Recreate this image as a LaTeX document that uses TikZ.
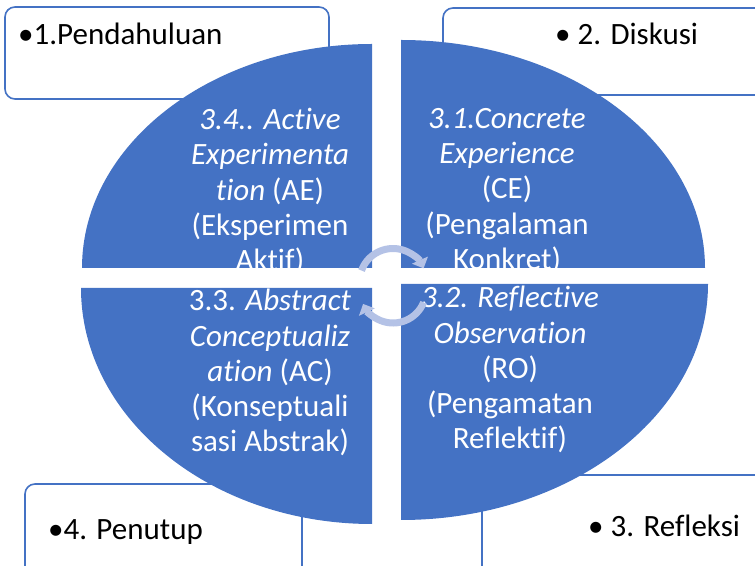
\documentclass[tikz,border=0pt]{standalone}
\usepackage{fontspec}
\setmainfont{Carlito}[RawFeature={-liga,-clig,-dlig,-calt}]
\usetikzlibrary{arrows.meta}
\definecolor{qblue}{HTML}{4472C4}
\definecolor{arrc}{HTML}{B4C2E6}
\tikzset{
  boxshape/.style={draw=qblue, line width=1.6pt, fill=white, rounded corners=10pt},
  boxtext/.style={anchor=base west, inner sep=0pt, font=\fontsize{31}{36}\selectfont, text=black},
  qtext/.style={anchor=north, inner sep=0pt, align=center, text=white, font=\fontsize{31}{35.3}\selectfont},
  cyc/.style={draw=arrc, line width=7pt, -{Triangle[width=17pt,length=9pt]}}
}
\begin{document}
\begin{tikzpicture}[x=1pt,y=1pt]
\useasboundingbox (0,0) rectangle (755,565);
\clip (0,0) rectangle (755,565);
% corner boxes
\draw[boxshape] (5,466) rectangle (329,558);
\draw[boxshape] (443,470) rectangle (800,557);
\draw[boxshape] (25,-50) rectangle (302,81);
\draw[boxshape] (482,-50) rectangle (800,90);
\node[boxtext] (b1) at (18,520) {•1.Pendahuluan};
\node[boxtext] (b2) at (555,520) {• 2. Diskusi};
\node[boxtext] (b4) at (48,25) {•4. Penutup};
\node[boxtext] (b3) at (588,28) {• 3. Refleksi};
% quadrants
\fill[qblue] (372,297) -- (82,297) arc[start angle=180, end angle=90, x radius=290, y radius=224] -- cycle;
\fill[qblue] (401,297) -- (705,297) arc[start angle=0, end angle=90, x radius=304, y radius=228] -- cycle;
\fill[qblue] (372,277) -- (81,277) arc[start angle=180, end angle=270, x radius=291, y radius=236] -- cycle;
\fill[qblue] (401,281) -- (708,281) arc[start angle=0, end angle=-90, x radius=307, y radius=236] -- cycle;
% quadrant texts
\begin{scope}
\clip (372,297) -- (82,297) arc[start angle=180, end angle=90, x radius=290, y radius=224] -- cycle;
\node[qtext] (ae) at (270,457) {\textit{3.4.. Active}\\\textit{Experimenta}\\\textit{tion} (AE)\\(Eksperimen\\Aktif)};
\end{scope}
\begin{scope}
\clip (401,297) -- (705,297) arc[start angle=0, end angle=90, x radius=304, y radius=228] -- cycle;
\node[qtext] (ce) at (507,457) {\textit{3.1.Concrete}\\\textit{Experience}\\(CE)\\(Pengalaman\\Konkret)};
\end{scope}
\begin{scope}
\clip (372,277) -- (81,277) arc[start angle=180, end angle=270, x radius=291, y radius=236] -- cycle;
\node[qtext] (ac) at (270,276) {3.3. \textit{Abstract}\\\textit{Conceptualiz}\\\textit{ation} (AC)\\(Konseptuali\\sasi Abstrak)};
\end{scope}
\begin{scope}
\clip (401,281) -- (708,281) arc[start angle=0, end angle=-90, x radius=307, y radius=236] -- cycle;
\node[qtext] (ro) at (510,279) {\textit{3.2. Reflective}\\\textit{Observation}\\(RO)\\(Pengamatan\\Reflektif)};
\end{scope}
% cycle arrows
\coordinate (cu) at (393,283);
\coordinate (cl) at (393,275);
\draw[cyc] ([shift={(160:33.5)}]cu) arc[start angle=160, end angle=24, radius=33.5];
\draw[cyc] ([shift={(-22:33)}]cl) arc[start angle=-22, end angle=-155, radius=33];
\end{tikzpicture}
\end{document}
